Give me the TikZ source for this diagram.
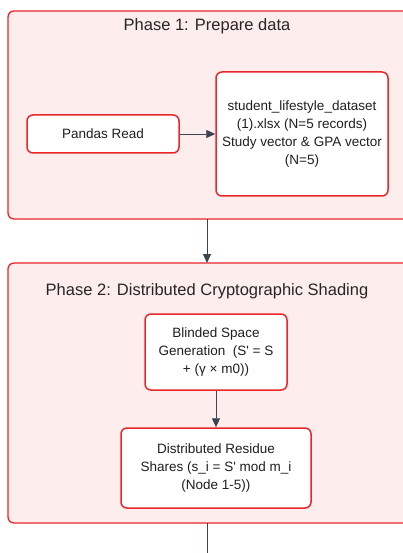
\documentclass[tikz,border=0pt]{standalone}
\usepackage{fontspec}
\setmainfont{Liberation Sans}
\usetikzlibrary{arrows.meta}
\definecolor{clfill}{HTML}{FDEDED}
\definecolor{clred}{HTML}{E8262B}
\definecolor{arr}{HTML}{3B4452}
\begin{document}
\begin{tikzpicture}[x=1pt,y=-1pt,
  cluster/.style={draw=clred,fill=clfill,line width=1.3pt,rounded corners=6pt},
  proc/.style={draw=clred,fill=white,line width=1.5pt,rounded corners=6pt,align=center,
    font=\fontsize{13.5}{18.3}\selectfont,text=black!88,inner sep=0pt},
  ttl/.style={font=\fontsize{16.5}{19}\selectfont,text=black!85},
  link/.style={draw=arr,line width=0.9pt,-{Triangle[length=9pt,width=8pt]}}]
\useasboundingbox (0,0) rectangle (402,553);
\fill[white] (0,0) rectangle (402,553);
% clusters
\path[cluster] (8,11) rectangle (410,219);
\node[ttl] (t1) at (207,26) {Phase 1: Prepare data};
\path[cluster] (8,263) rectangle (410,523);
\node[ttl] (t2) at (207,291) {Phase 2: Distributed Cryptographic Shading};
% nodes
\node[proc,minimum width=152pt,minimum height=38pt] (pr) at (103,134) {Pandas Read};
\node[proc,minimum width=172pt,minimum height=124pt] (ds) at (302,134)
  {student\_lifestyle\_dataset\\(1).xlsx (N=5 records)\\Study vector \& GPA vector\\(N=5)};
\node[proc,minimum width=142pt,minimum height=76pt] (bl) at (216,352)
  {Blinded Space\\Generation\ \ (S\textquotesingle{} = S\\+ (γ × m0))};
\node[proc,minimum width=190pt,minimum height=80pt] (rs) at (216,468)
  {Distributed Residue\\Shares (s\_i = S\textquotesingle{} mod m\_i\\(Node 1-5))};
\coordinate (c1) at (207,219);
\coordinate (c2) at (207,263);
\coordinate (c3) at (207,523);
\coordinate (c4) at (207,553);
% connectors
\draw[link] (pr) -- (ds);
\draw[link] (c1) -- (c2);
\draw[link] (bl) -- (rs);
\draw[draw=arr,line width=0.9pt] (c3) -- (c4);
\end{tikzpicture}
\end{document}
